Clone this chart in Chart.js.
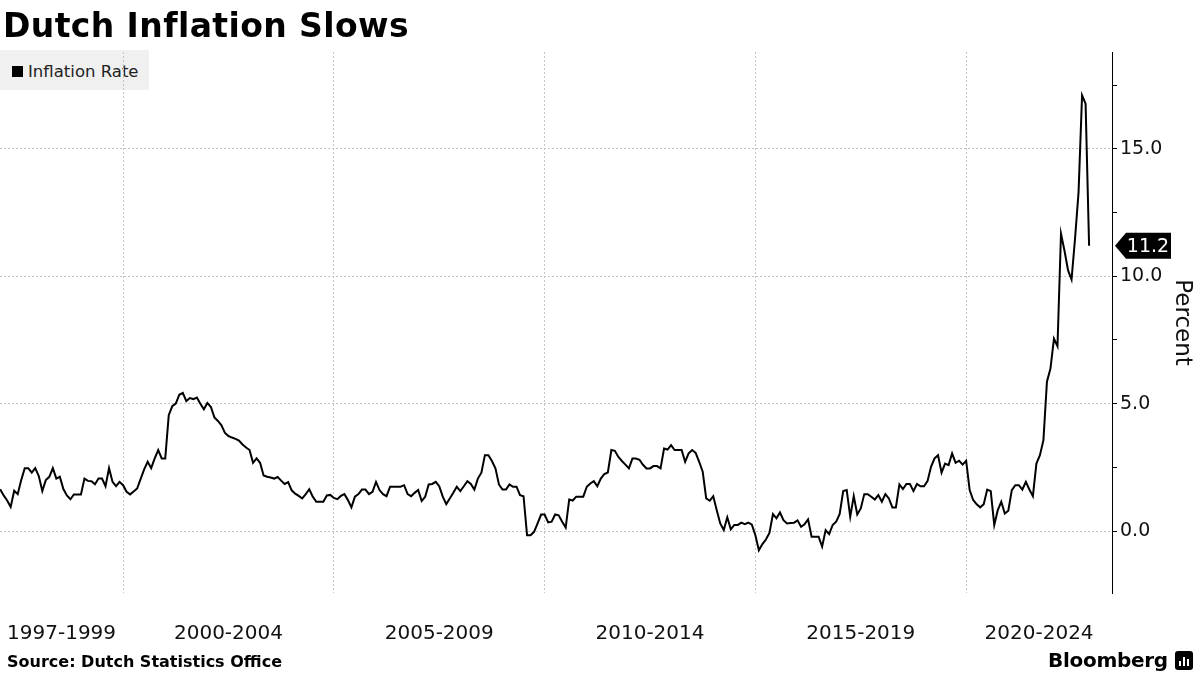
<!DOCTYPE html>
<html>
<head>
<meta charset="utf-8">
<script src="https://cdn.jsdelivr.net/npm/chart.js@4.4.1/dist/chart.umd.min.js"></script>
<style>
  body { margin: 0; background: #fff; }
  #wrap { position: relative; width: 1200px; height: 675px; overflow: hidden; font-family: "DejaVu Sans", sans-serif; }
  #wrap div { position: absolute; white-space: nowrap; }
  #legendBox { left: 0; top: 50px; width: 149px; height: 40px; background: #f0f0f0; }
  #legendSwatch { left: 12px; top: 66px; width: 11px; height: 11px; background: #000; }
  #legendText { left: 28px; top: 64px; font-size: 16.5px; line-height: 16.5px; color: #222; }
  #title { left: 3px; top: 9px; font-size: 33px; line-height: 33px; font-weight: bold; letter-spacing: 0.4px; color: #000; }
  #source { left: 7px; top: 654px; font-size: 16px; line-height: 16px; font-weight: bold; color: #000; }
  #brand { left: 1048px; top: 650px; font-size: 20px; line-height: 20px; font-weight: bold; color: #000; letter-spacing: -0.3px; }
  #logo { left: 1175px; top: 651px; width: 18px; height: 19px; background: #000; border-radius: 3px; }
  #logo div { background: #fff; width: 2px; bottom: 4px; }
  canvas { position: absolute; left: 0; top: 0; }
</style>
</head>
<body>
<div id="wrap">
  <div id="legendBox"></div>
  <div id="legendSwatch"></div>
  <div id="legendText">Inflation Rate</div>
  <canvas id="myChart" width="1200" height="675"></canvas>
  <div id="title">Dutch Inflation Slows</div>
  <div id="source">Source: Dutch Statistics Office</div>
  <div id="brand">Bloomberg</div>
  <div id="logo"><div style="left:4px;height:5px"></div><div style="left:8px;height:9px"></div><div style="left:12px;height:7px"></div></div>
</div>
<script>
// monthly inflation rate (%), Jan 1997 .. Nov 2022
const firstYear = 1997
const inflation = [
  1.64, 1.4, 1.2, 0.95, 1.58, 1.45, 2.0, 2.47, 2.47, 2.29, 2.47, 2.16,     // 1997
  1.57, 2.0, 2.13, 2.47, 2.06, 2.13, 1.65, 1.4, 1.25, 1.44, 1.44, 1.44,    // 1998
  2.06, 1.97, 1.96, 1.84, 2.06, 2.06, 1.76, 2.47, 1.93, 1.76, 1.93, 1.8,   // 1999
  1.54, 1.44, 1.55, 1.67, 2.05, 2.42, 2.72, 2.47, 2.85, 3.18, 2.85, 2.85,  // 2000
  4.55, 4.9, 5.0, 5.35, 5.42, 5.1, 5.22, 5.18, 5.24, 5.0, 4.78, 5.03,      // 2001
  4.87, 4.46, 4.32, 4.15, 3.85, 3.73, 3.67, 3.62, 3.55, 3.4, 3.28, 3.18,   // 2002
  2.68, 2.85, 2.68, 2.18, 2.13, 2.1, 2.06, 2.12, 1.98, 1.85, 1.92, 1.6,    // 2003
  1.47, 1.38, 1.28, 1.45, 1.64, 1.35, 1.15, 1.15, 1.15, 1.4, 1.42, 1.3,    // 2004
  1.25, 1.38, 1.45, 1.22, 0.93, 1.35, 1.45, 1.63, 1.63, 1.45, 1.54, 1.93,  // 2005
  1.61, 1.45, 1.37, 1.74, 1.74, 1.74, 1.74, 1.8, 1.45, 1.37, 1.5, 1.61,    // 2006
  1.18, 1.35, 1.83, 1.85, 1.93, 1.76, 1.35, 1.06, 1.28, 1.5, 1.74, 1.57,   // 2007
  1.76, 1.96, 1.85, 1.63, 2.06, 2.29, 2.98, 2.98, 2.75, 2.46, 1.83, 1.63,  // 2008
  1.63, 1.83, 1.74, 1.74, 1.41, 1.37, -0.16, -0.16, -0.03, 0.3, 0.65, 0.65, // 2009
  0.34, 0.37, 0.65, 0.62, 0.37, 0.14, 1.24, 1.2, 1.35, 1.35, 1.35, 1.74,   // 2010
  1.87, 1.96, 1.76, 2.06, 2.24, 2.3, 3.18, 3.15, 2.91, 2.75, 2.61, 2.46,   // 2011
  2.85, 2.85, 2.8, 2.6, 2.46, 2.46, 2.55, 2.55, 2.46, 3.24, 3.2, 3.37,     // 2012
  3.18, 3.18, 3.18, 2.72, 3.05, 3.18, 3.07, 2.72, 2.33, 1.28, 1.19, 1.37,  // 2013
  0.82, 0.3, 0.04, 0.54, 0.07, 0.24, 0.24, 0.33, 0.27, 0.33, 0.25, -0.16,  // 2014
  -0.75, -0.51, -0.33, -0.07, 0.67, 0.5, 0.73, 0.43, 0.3, 0.32, 0.33, 0.42, // 2015
  0.17, 0.27, 0.46, -0.22, -0.22, -0.22, -0.61, 0.04, -0.12, 0.24, 0.37, 0.67, // 2016
  1.57, 1.61, 0.56, 1.37, 0.65, 0.89, 1.45, 1.45, 1.35, 1.24, 1.41, 1.15,  // 2017
  1.45, 1.28, 0.93, 0.93, 1.83, 1.65, 1.85, 1.85, 1.57, 1.85, 1.76, 1.76,  // 2018
  1.96, 2.52, 2.85, 2.98, 2.29, 2.65, 2.59, 3.05, 2.68, 2.76, 2.61, 2.76,  // 2019
  1.61, 1.22, 1.05, 0.93, 1.05, 1.63, 1.57, 0.24, 0.82, 1.15, 0.69, 0.8,   // 2020
  1.61, 1.8, 1.8, 1.63, 1.93, 1.63, 1.37, 2.65, 2.98, 3.57, 5.86, 6.38,    // 2021
  7.55, 7.25, 11.67, 11.0, 10.24, 9.87, 11.48, 13.3, 17.1, 16.77, 11.2     // 2022
]
const gridYears = [2000, 2005, 2010, 2015, 2020]
const periodLabels = ["1997-1999", "2000-2004", "2005-2009", "2010-2014", "2015-2019", "2020-2024"]
const yTicks = [-2.5, 0, 2.5, 5, 7.5, 10, 12.5, 15, 17.5]
const yLabelled = [0, 5, 10, 15]

const xMin = 1997.08, xMax = 2023.46
const yMin = -2.43, yMax = 18.8

// monthly points plotted at month end
const points = inflation.map((v, i) => ({ x: firstYear + (i + 1) / 12, y: v }))

// x ticks: grid lines at the five-year marks, period labels centred in between
const bounds = [xMin].concat(gridYears, [xMax])
const xTickDefs = []
gridYears.forEach(y => xTickDefs.push({ value: y, label: "" }))
periodLabels.forEach((lab, i) => xTickDefs.push({ value: (bounds[i] + bounds[i + 1]) / 2, label: lab }))
xTickDefs.sort((a, b) => a.value - b.value)

// last value badge
const lastValueBadge = {
  id: "lastValueBadge",
  afterDraw(chart) {
    const ctx = chart.ctx
    const ys = chart.scales.y
    const v = inflation[inflation.length - 1]
    const py = ys.getPixelForValue(v)
    const x0 = ys.left + 3
    ctx.save()
    ctx.fillStyle = "#000"
    ctx.beginPath()
    ctx.moveTo(x0, py)
    ctx.lineTo(x0 + 11, py - 13)
    ctx.lineTo(x0 + 56, py - 13)
    ctx.lineTo(x0 + 56, py + 13)
    ctx.lineTo(x0 + 11, py + 13)
    ctx.closePath()
    ctx.fill()
    ctx.fillStyle = "#fff"
    ctx.font = "19px 'DejaVu Sans'"
    ctx.textAlign = "center"
    ctx.textBaseline = "middle"
    ctx.fillText(v.toFixed(1), x0 + 33, py + 1)
    ctx.restore()
  }
}

window.onload = function(){
  const ctx = document.getElementById("myChart")
  try {
    new Chart(ctx, {
      type: "line",
      data: {
        datasets: [{
          label: "Inflation Rate",
          data: points,
          borderColor: "#000",
          borderWidth: 2,
          pointRadius: 0,
          tension: 0,
          fill: false
        }]
      },
      options: {
        responsive: false,
        animation: false,
        devicePixelRatio: 1,
        layout: { padding: { top: 52, left: 0, right: 0, bottom: 0 } },
        plugins: {
          legend: { display: false },
          title: { display: false },
          tooltip: { enabled: false }
        },
        scales: {
          x: {
            type: "linear",
            min: xMin,
            max: xMax,
            afterBuildTicks: s => { s.ticks = xTickDefs.map(t => ({ value: t.value })) },
            afterFit: s => { s.height = 82; s.paddingLeft = 0; s.paddingRight = 0 },
            ticks: {
              autoSkip: false,
              maxRotation: 0,
              minRotation: 0,
              padding: 29,
              color: "#111",
              font: { family: "DejaVu Sans", size: 20 },
              callback: (value, index) => xTickDefs[index] ? xTickDefs[index].label : ""
            },
            grid: {
              drawTicks: false,
              lineWidth: 1,
              color: c => (c.tick && gridYears.includes(c.tick.value)) ? "#c4c4c4" : "rgba(0,0,0,0)"
            },
            border: { display: false, dash: [2, 2] }
          },
          y: {
            position: "right",
            min: yMin,
            max: yMax,
            afterBuildTicks: s => { s.ticks = yTicks.filter(v => v >= yMin && v <= yMax).map(v => ({ value: v })) },
            afterFit: s => { s.width = 88 },
            ticks: {
              padding: 3,
              color: "#111",
              font: { family: "DejaVu Sans", size: 19 },
              callback: value => yLabelled.includes(value) ? value.toFixed(1) : ""
            },
            grid: {
              drawTicks: true,
              tickLength: 5,
              tickColor: "#000",
              tickWidth: 1,
              color: c => (c.tick && yLabelled.includes(c.tick.value)) ? "#c4c4c4" : "rgba(0,0,0,0)"
            },
            border: { display: true, color: "#000", width: 1, dash: [2, 2] },
            title: {
              display: true,
              text: "Percent",
              color: "#111",
              font: { family: "DejaVu Sans", size: 23 }
            }
          }
        }
      },
      plugins: [lastValueBadge]
    })
  } catch(error) { console.log(error) }
}
</script>
</body>
</html>
